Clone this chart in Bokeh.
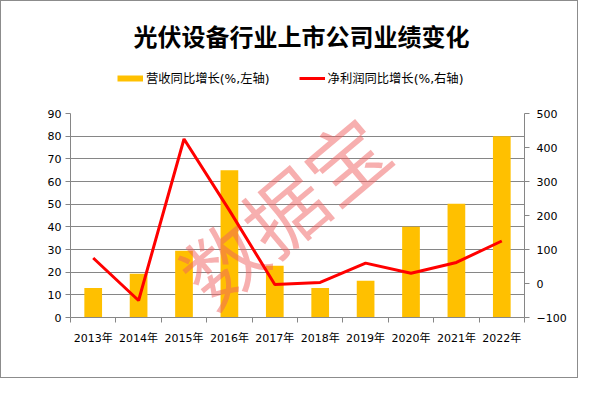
from bokeh.plotting import figure
from bokeh.layouts import column
from bokeh.models import (Range1d, LinearAxis, FixedTicker, Legend, LegendItem,
                          ColumnDataSource)
from bokeh.core.properties import value
from bokeh.embed import file_html
from bokeh.resources import INLINE

# ---- data ----
years = ["2013年", "2014年", "2015年", "2016年", "2017年", "2018年", "2019年", "2020年", "2021年", "2022年"]
revenue_growth = [13, 19.3, 29.4, 65, 22.8, 13, 16.2, 40, 50.2, 80]        # 左轴
profit_growth = [75, -50, 425, 215, -3, 3, 60, 30, 62, 125]                 # 右轴
left_ticks = [0, 10, 20, 30, 40, 50, 60, 70, 80, 90]
right_ticks = [-100, 0, 100, 200, 300, 400, 500]

title_text = "光伏设备行业上市公司业绩变化"
legend_bar = "营收同比增长(%,左轴)"
legend_line = "净利润同比增长(%,右轴)"
watermark = "数据宝"

GRAY = "#868686"
BAR = "#ffc000"
RED = "#ff0000"
FONT = "'DejaVu Sans', 'Noto Sans CJK SC'"
CJK = "Noto Sans CJK SC"

W = 576
HEAD_H = 104
MAIN_H = 272
FRAME_L = 69          # left border of the plot frames (px)
FRAME_R = 523         # right edge of the plot frames (px)

# ---------------- header (title + legend) ----------------
# the column aligns the header's frame with the chart's frame, so the
# header ranges are expressed in pixels of the whole figure width
hdr = figure(width=W, height=HEAD_H, output_backend="svg", toolbar_location=None,
             x_range=Range1d(FRAME_L, FRAME_R), y_range=Range1d(0, HEAD_H),
             x_axis_type=None, y_axis_type=None,
             min_border_left=FRAME_L, min_border_right=W - FRAME_R,
             min_border_top=0, min_border_bottom=0)
hdr.outline_line_color = None
hdr.grid.grid_line_color = None
hdr.background_fill_color = "white"
hdr.border_fill_color = "white"

hdr.text(x=[300], y=[HEAD_H - 34], text=[title_text], text_font=value(CJK),
         text_font_size="24px", text_font_style="bold", text_color="black",
         text_align="center", text_baseline="middle")

# legend-only renderers (their points lie far outside the header's view)
dummy_bar = hdr.line(x=[-1e6, -1e6 + 1], y=[-1e6, -1e6], line_color=BAR, line_width=6, line_cap="butt")
dummy_line = hdr.line(x=[-1e6, -1e6 + 1], y=[-1e6, -1e6], line_color=RED, line_width=3, line_cap="butt")
legend = Legend(items=[LegendItem(label=legend_bar, renderers=[dummy_bar]),
                       LegendItem(label=legend_line, renderers=[dummy_line])],
                location=(116 - FRAME_L, 18), orientation="horizontal", spacing=29,
                padding=0, margin=0, border_line_color=None, background_fill_alpha=0,
                glyph_width=26, glyph_height=16, label_height=16, label_standoff=3,
                label_text_font=FONT, label_text_font_size="12.3px", label_text_color="black")
hdr.add_layout(legend, "center")

# ---------------- main chart ----------------
idx = list(range(len(years)))
src = ColumnDataSource(dict(x=idx, rev=revenue_growth, prof=profit_growth))

p = figure(width=W, height=MAIN_H, output_backend="svg", toolbar_location=None,
           x_range=Range1d(-0.5, len(years) - 0.5), y_range=Range1d(0, 90),
           min_border_left=FRAME_L, min_border_right=W - FRAME_R,
           min_border_top=8, min_border_bottom=60)
p.outline_line_color = None
p.background_fill_color = "white"
p.border_fill_color = "white"
p.extra_y_ranges = {"right": Range1d(-100, 500)}

# x axis: labels at centres, ticks at category boundaries
xa = p.xaxis[0]
xa.ticker = FixedTicker(ticks=idx, minor_ticks=[i - 0.5 for i in range(len(years) + 1)])
xa.major_label_overrides = {i: y for i, y in enumerate(years)}
xa.major_tick_out = 0
xa.major_tick_in = 0
xa.minor_tick_out = 5
xa.minor_tick_in = 0
xa.minor_tick_line_color = GRAY
xa.axis_line_color = GRAY
xa.major_label_standoff = 9
xa.major_label_text_font = FONT
xa.major_label_text_font_size = "11px"
xa.major_label_text_color = "black"

# left axis
ya = p.yaxis[0]
ya.ticker = FixedTicker(ticks=left_ticks)
ya.major_tick_out = 5
ya.major_tick_in = 0
ya.minor_tick_line_color = None
ya.axis_line_color = GRAY
ya.major_tick_line_color = GRAY
ya.major_label_standoff = 4
ya.major_label_text_font = FONT
ya.major_label_text_font_size = "11px"
ya.major_label_text_color = "black"

# right axis
ra = LinearAxis(y_range_name="right", ticker=FixedTicker(ticks=right_ticks))
ra.major_tick_out = 5
ra.major_tick_in = 0
ra.minor_tick_line_color = None
ra.axis_line_color = GRAY
ra.major_tick_line_color = GRAY
ra.major_label_standoff = 7
ra.major_label_text_font = FONT
ra.major_label_text_font_size = "11px"
ra.major_label_text_color = "black"
p.add_layout(ra, "right")

p.xgrid.grid_line_color = None
p.ygrid.ticker = FixedTicker(ticks=left_ticks)
p.ygrid.grid_line_color = GRAY
p.ygrid.grid_line_width = 1

bars = p.vbar(x="x", top="rev", width=0.39, source=src, fill_color=BAR, line_color=None)

# watermark between bars and line
p.text(x=[4.17], y=[48], text=[watermark], angle=40, angle_units="deg",
       text_font=value(CJK), text_font_size="80px", text_color="#f06060", text_alpha=0.5,
       text_align="center", text_baseline="middle")

line = p.line(x="x", y="prof", source=src, y_range_name="right", line_color=RED, line_width=3)

layout = column(hdr, p, spacing=0, styles={"border": "1px solid #8c8c8c"})

open("out.html", "w").write(file_html(layout, INLINE))
